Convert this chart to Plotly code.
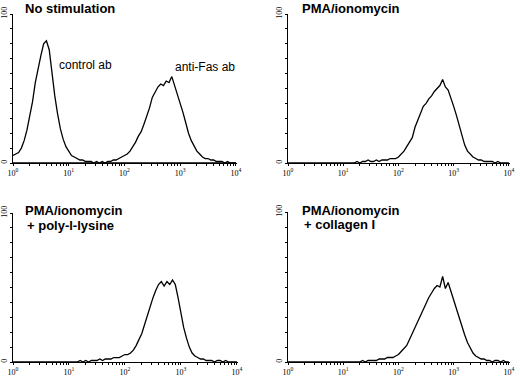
import plotly.graph_objects as go

# channel positions (log10 of fluorescence intensity)
log_channels = [0.00, 0.05, 0.10, 0.15, 0.20, 0.25, 0.30, 0.35, 0.40, 0.45,
                0.50, 0.55, 0.60, 0.65, 0.70, 0.75, 0.80, 0.85, 0.90, 0.95,
                1.00, 1.05, 1.10, 1.15, 1.20, 1.25, 1.30, 1.35, 1.40, 1.45,
                1.50, 1.55, 1.60, 1.65, 1.70, 1.75, 1.80, 1.85, 1.90, 1.95,
                2.00, 2.05, 2.10, 2.15, 2.20, 2.25, 2.30, 2.35, 2.40, 2.45,
                2.50, 2.55, 2.60, 2.65, 2.70, 2.75, 2.80, 2.85, 2.90, 2.95,
                3.00, 3.05, 3.10, 3.15, 3.20, 3.25, 3.30, 3.35, 3.40, 3.45,
                3.50, 3.55, 3.60, 3.65, 3.70, 3.75, 3.80, 3.85, 3.90, 3.95,
                4.00]

no_stim_control = [5, 6, 7, 10, 15, 22, 32, 41, 54, 64,
                   72, 80, 82, 76, 60, 45, 33, 23, 16, 11,
                   8, 5, 4, 3, 2, 2, 1, 1, 1, 0,
                   1, 0, 0, 0, 0, 0, 0, 0, 0, 0,
                   0, 0, 0, 0, 0, 0, 0, 0, 0, 0,
                   0, 0, 0, 0, 0, 0, 0, 0, 0, 0,
                   0, 0, 0, 0, 0, 0, 0, 0, 0, 0,
                   0, 0, 0, 0, 0, 0, 0, 0, 0, 0,
                   0]

no_stim_antifas = [0, 0, 0, 0, 0, 0, 0, 0, 0, 0,
                   0, 0, 0, 0, 0, 0, 0, 0, 0, 0,
                   0, 0, 0, 0, 0, 0, 0, 0, 0, 0,
                   0, 0, 1, 0, 1, 1, 2, 2, 3, 4,
                   5, 6, 8, 11, 14, 18, 21, 26, 31, 37,
                   44, 48, 51, 53, 52, 55, 54, 58, 52, 47,
                   40, 34, 27, 20, 15, 11, 8, 6, 4, 3,
                   3, 2, 2, 1, 1, 1, 0, 1, 0, 0,
                   0]

pma_iono = [0, 0, 0, 0, 0, 0, 0, 0, 0, 0,
            0, 0, 0, 0, 0, 0, 0, 0, 0, 0,
            0, 0, 0, 0, 0, 1, 0, 1, 1, 2,
            1, 1, 2, 1, 2, 2, 2, 3, 3, 3,
            4, 6, 8, 11, 14, 17, 24, 29, 34, 38,
            40, 43, 45, 48, 50, 52, 56, 51, 49, 44,
            38, 32, 25, 18, 12, 8, 6, 4, 3, 2,
            2, 1, 1, 1, 1, 0, 1, 0, 0, 0,
            0]

pma_polylysine = [0, 0, 0, 0, 0, 0, 0, 0, 0, 0,
                  0, 0, 0, 0, 0, 0, 0, 0, 0, 0,
                  0, 0, 0, 0, 1, 0, 1, 0, 1, 1,
                  1, 2, 1, 2, 2, 2, 3, 3, 3, 4,
                  5, 5, 6, 8, 11, 15, 19, 25, 31, 38,
                  43, 48, 52, 54, 51, 54, 52, 55, 52, 43,
                  32, 23, 16, 10, 6, 4, 3, 2, 2, 1,
                  1, 1, 0, 1, 1, 0, 1, 0, 0, 0,
                  0]

pma_collagen = [0, 0, 0, 0, 0, 0, 0, 0, 0, 0,
                0, 0, 0, 0, 0, 0, 0, 0, 0, 0,
                0, 0, 0, 0, 0, 0, 0, 1, 0, 1,
                1, 1, 1, 2, 2, 2, 3, 3, 3, 4,
                5, 7, 9, 11, 15, 19, 23, 28, 32, 35,
                39, 43, 46, 49, 51, 50, 57, 49, 53, 47,
                42, 36, 30, 23, 18, 13, 9, 6, 4, 3,
                2, 2, 1, 1, 0, 1, 1, 0, 1, 0,
                0]

x_tick_vals = [1, 10, 100, 1000, 10000]
x_tick_text = ["10<sup>0</sup>", "10<sup>1</sup>", "10<sup>2</sup>",
               "10<sup>3</sup>", "10<sup>4</sup>"]
y_tick_vals = [0, 100]
y_tick_text = ["0", "100"]

panel_titles = [["No stimulation"], ["PMA/ionomycin"],
                ["PMA/ionomycin", "+ poly-l-lysine"],
                ["PMA/ionomycin", "+ collagen I"]]
peak_labels = ["control ab", "anti-Fas ab"]

W, H = 520, 377
intens = [10 ** v for v in log_channels]
minor_vals = [m * 10 ** d for d in range(4) for m in range(2, 10)]

fig = go.Figure()

panels = [
    # (x px left, x px right, y px top, y px bottom)
    (13, 237, 14, 163),
    (288, 510, 14, 163),
    (13, 238, 213, 362),
    (288, 510, 212, 362),
]
series_per_panel = [[no_stim_control, no_stim_antifas], [pma_iono],
                    [pma_polylysine], [pma_collagen]]

for i, ((xl, xr, yt, yb), series) in enumerate(zip(panels, series_per_panel)):
    n = "" if i == 0 else str(i + 1)
    for s in series:
        fig.add_trace(go.Scatter(x=intens, y=s, mode="lines",
                                 line=dict(color="black", width=1.3),
                                 xaxis="x" + n, yaxis="y" + n,
                                 showlegend=False, hoverinfo="skip"))
    fig.update_layout(**{
        "xaxis" + n: dict(domain=[xl / W, xr / W], type="log", range=[0, 4.02],
                          anchor="y" + n, showgrid=False, zeroline=False,
                          showline=True, linecolor="black", linewidth=1,
                          ticks="outside", ticklen=2, tickcolor="black",
                          tickvals=x_tick_vals, ticktext=x_tick_text,
                          ticklabelstandoff=0,
                          tickfont=dict(family="Liberation Serif", size=8, color="black"),
                          minor=dict(ticks="outside", ticklen=2, tickcolor="black",
                                     tickvals=minor_vals, showgrid=False),
                          automargin=False, fixedrange=True),
        "yaxis" + n: dict(domain=[1 - yb / H, 1 - yt / H], range=[0, 100],
                          anchor="x" + n, showgrid=False, zeroline=False,
                          showline=True, linecolor="black", linewidth=1,
                          ticks="outside", ticklen=2, tickcolor="black",
                          tickvals=y_tick_vals, ticktext=y_tick_text,
                          tickangle=-90, ticklabelstandoff=0,
                          tickfont=dict(family="Liberation Serif", size=8, color="black"),
                          minor=dict(ticks="outside", ticklen=2, tickcolor="black",
                                     dtick=10, showgrid=False),
                          automargin=False, fixedrange=True),
    })

title_pos = [[(23, 8)], [(300, 8)], [(23, 210), (25, 225)], [(300, 210), (302, 224)]]
annotations = []
for lines, poss in zip(panel_titles, title_pos):
    for t, (px, py) in zip(lines, poss):
        annotations.append(dict(text="<b>" + t + "</b>", x=px / W, y=1 - py / H,
                                xref="paper", yref="paper", xanchor="left",
                                yanchor="middle", showarrow=False,
                                font=dict(family="Liberation Sans", size=13, color="black")))
for t, (px, py) in zip(peak_labels, [(57, 65), (173, 67)]):
    annotations.append(dict(text=t, x=px / W, y=1 - py / H, xref="paper", yref="paper",
                            xanchor="left", yanchor="middle", showarrow=False,
                            font=dict(family="Liberation Sans", size=12, color="black")))

fig.update_layout(width=W, height=H, margin=dict(l=0, r=0, t=0, b=0),
                  paper_bgcolor="white", plot_bgcolor="white",
                  annotations=annotations)

fig.write_html("out.html", config={"displayModeBar": False},
               post_script="document.body.style.margin='0';document.body.style.overflow='hidden';")
